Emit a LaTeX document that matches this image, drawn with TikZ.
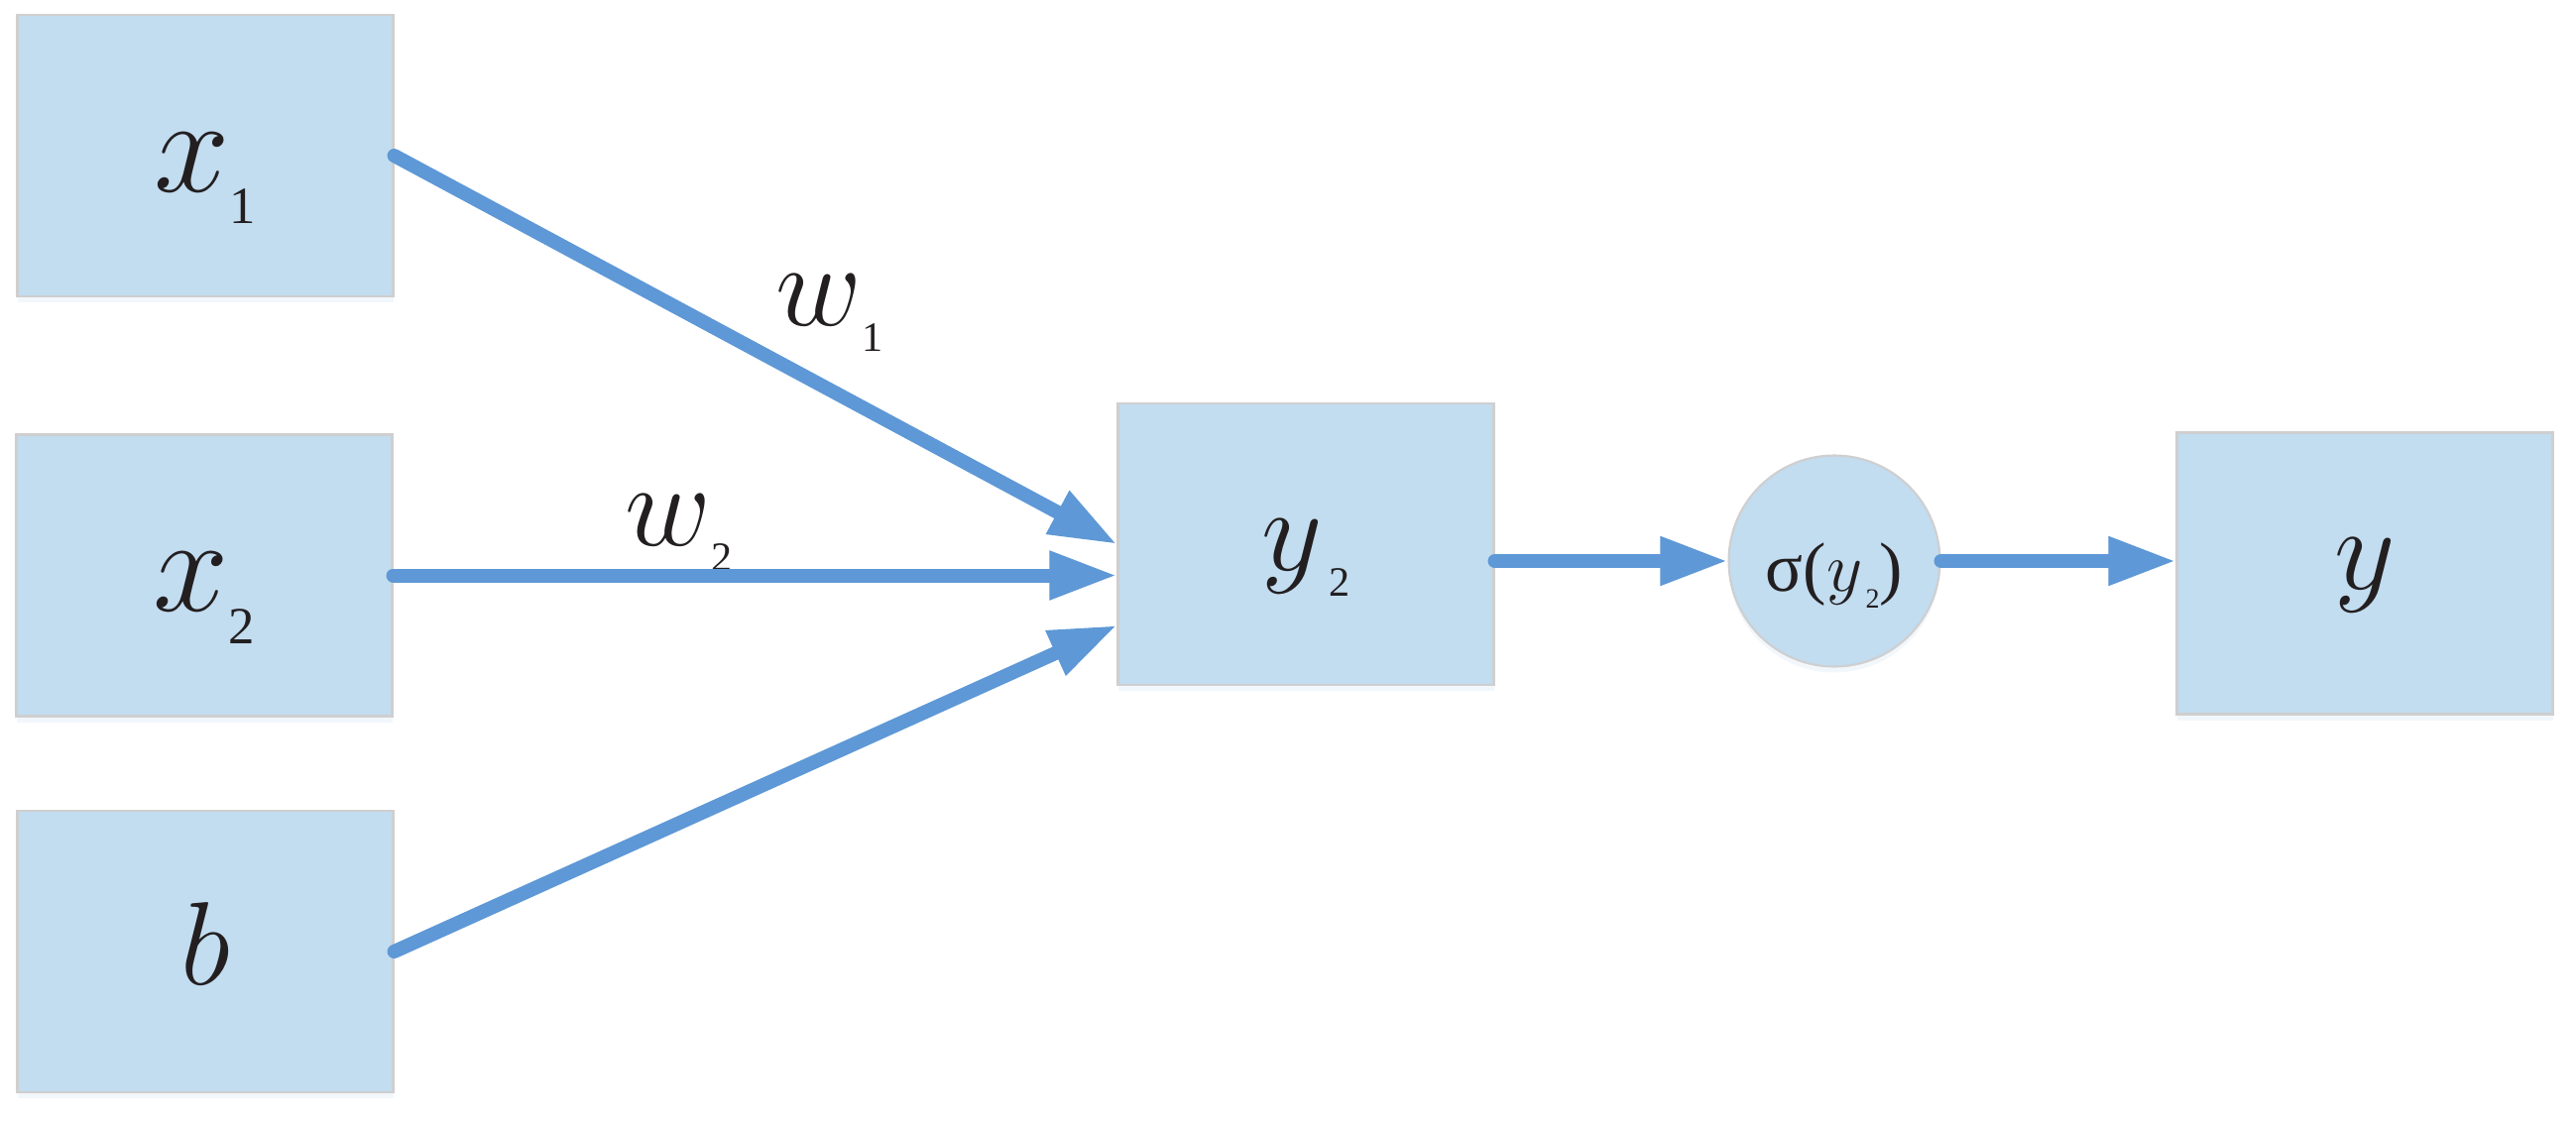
\RequirePackage{fix-cm}
\documentclass[tikz,border=0pt]{standalone}
\usepackage{fontspec}
\setmainfont{Liberation Serif}
\usetikzlibrary{arrows.meta, positioning, shadows}
\definecolor{cellblue}{HTML}{C2DCF0}
\definecolor{celledge}{HTML}{CFCFCF}
\definecolor{wireblue}{HTML}{5E98D6}
\definecolor{inkblack}{HTML}{231F20}
\newcommand{\varsub}[4][15]{$#2$\kern#3{\fontsize{#1}{#1}\selectfont\raisebox{-0.62em}{#4}}}
\tikzset{
  >={Triangle[length=6.8mm, width=4.6mm]},
  cell/.style={rectangle, draw=celledge, line width=0.6pt, fill=cellblue,
               minimum width=3.79cm, minimum height=2.84cm, inner sep=0pt,
               text=inkblack, font=\fontsize{34}{34}\selectfont,
               text height=6mm, text depth=0pt,
               drop shadow={shadow xshift=0pt, shadow yshift=-0.6mm, fill=wireblue, opacity=0.08}},
  act/.style={cell, circle, minimum size=2.13cm, font=\fontsize{20}{20}\selectfont},
  wire/.style={->, line width=1.4mm, draw=wireblue, line cap=round},
  wlbl/.style={anchor=base west, inner sep=0pt, text=inkblack, font=\fontsize{34}{34}\selectfont},
}

\begin{document}
\begin{tikzpicture}
  \useasboundingbox (0,0) rectangle (25.98,-11.34);
  % inputs
  \node[cell, text height=7.2mm, font=\fontsize{39}{39}\selectfont] (x1) at (2.07,-1.57) {\varsub{x}{0em}{1}};
  \node[cell, text height=7.2mm, font=\fontsize{39}{39}\selectfont] (x2) at (2.06,-5.805) {\varsub{x}{0em}{2}};
  \node[cell, text height=6.6mm] (b) at (2.07,-9.60) {$b$};
  % sum, activation, output
  \node[cell, text height=5.2mm] (y2) at (13.17,-5.49) {\varsub[12]{y}{0.05em}{2}};
  \node[act] (sig) at (18.50,-5.66) {σ(\varsub[8]{y}{0.05em}{2})};
  \node[cell, text height=3.2mm] (y) at (23.85,-5.785) {$y$};
  % weights
  \node[wlbl] (w1) at (7.82,-3.28) {\varsub[12]{w}{0em}{1}};
  \node[wlbl] (w2) at (6.30,-5.50) {\varsub[12]{w}{0em}{2}};
  \draw[wire] (x1.east) -- (y2.west);
  \draw[wire] (x2.east) -- (y2.west |- x2.east);
  \draw[wire] (b.east) -- ([yshift=-8.2mm]y2.west);
  \draw[wire] (y2.east |- sig.center) -- (sig.west);
  \draw[wire] (sig.east) -- (y.west |- sig.center);
\end{tikzpicture}
\end{document}
